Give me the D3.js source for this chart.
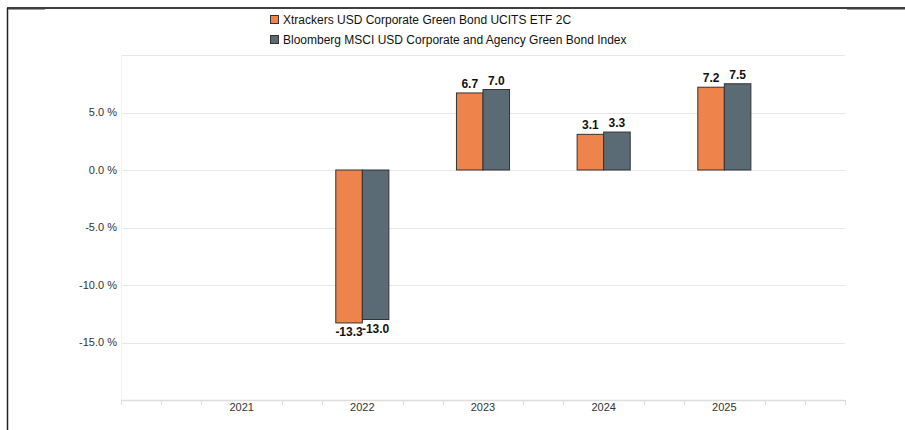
<!DOCTYPE html>
<html>
<head>
<meta charset="utf-8">
<script src="https://cdn.jsdelivr.net/npm/d3@7"></script>
<style>
  body { margin: 0; background: #fff; }
  svg text { font-family: "Liberation Sans", Arial, sans-serif; }
</style>
</head>
<body>
<div id="chart"></div>
<script>
// chart data
const years = [2021, 2022, 2023, 2024, 2025];
const fundValues = [null, -13.3, 6.7, 3.1, 7.2];
const indexValues = [null, -13.0, 7.0, 3.3, 7.5];
const seriesNames = [
    "Xtrackers USD Corporate Green Bond UCITS ETF 2C",
    "Bloomberg MSCI USD Corporate and Agency Green Bond Index"
];
const seriesColors = ["#ee844b", "#5a6b76"];
const yTicks = [10, 5, 0, -5, -10, -15];

const W = 905, H = 430;
const plot = { left: 121, right: 845, top: 55, bottom: 400 };

// plain hyphen instead of the unicode minus d3 puts in
const fmt = v => d3.format(".1f")(v).replace("\u2212", "-");

const svg = d3.select("#chart").append("svg")
    .attr("width", W)
    .attr("height", H);

// outer frame
svg.append("line").attr("x1", 7).attr("x2", W).attr("y1", 8).attr("y2", 8)
    .attr("stroke", "#000").attr("stroke-width", 1.5);
svg.append("line").attr("x1", 7.5).attr("x2", 7.5).attr("y1", 8).attr("y2", H)
    .attr("stroke", "#222").attr("stroke-width", 1.5);
svg.append("line").attr("x1", 8).attr("x2", 45).attr("y1", 9.5).attr("y2", 9.5)
    .attr("stroke", "#999").attr("stroke-width", 1);
svg.append("line").attr("x1", 847).attr("x2", W).attr("y1", 9.5).attr("y2", 9.5)
    .attr("stroke", "#999").attr("stroke-width", 1);

// scales
const x = d3.scaleLinear().domain([2020, 2026]).range([plot.left, plot.right]);
const y = d3.scaleLinear().domain([-20, 10]).range([plot.bottom, plot.top]);
const barW = x(2020.22) - x(2020);

// gridlines
svg.append("g").selectAll("line")
    .data(yTicks)
    .join("line")
    .attr("x1", plot.left).attr("x2", plot.right)
    .attr("y1", d => Math.round(y(d)) + 0.5).attr("y2", d => Math.round(y(d)) + 0.5)
    .attr("stroke", "#e6e6e6");

svg.append("line")
    .attr("x1", plot.left + 0.5).attr("x2", plot.left + 0.5)
    .attr("y1", plot.top).attr("y2", plot.bottom)
    .attr("stroke", "#f2f2f2");

// y labels
svg.append("g").selectAll("text")
    .data(yTicks.filter(d => d < 10))
    .join("text")
    .attr("x", plot.left - 4)
    .attr("y", d => y(d))
    .attr("dy", "0.35em")
    .attr("text-anchor", "end")
    .attr("font-size", 11)
    .attr("fill", "#333")
    .text(d => fmt(d) + " %");

// x axis: minor ticks every third of a year, labels at the years
const xTicks = d3.range(0, 19).map(i => 2020 + i / 3)
    .filter((d, i) => i % 3 !== 0 || i === 0 || i === 18);

const xAxis = svg.append("g");
xAxis.append("line")
    .attr("x1", plot.left).attr("x2", plot.right)
    .attr("y1", plot.bottom + 0.5).attr("y2", plot.bottom + 0.5)
    .attr("stroke", "#ddd").attr("stroke-width", 1.5);
xAxis.selectAll(".tick")
    .data(xTicks)
    .join("line")
    .attr("x1", d => Math.round(x(d)) + 0.5).attr("x2", d => Math.round(x(d)) + 0.5)
    .attr("y1", plot.bottom).attr("y2", plot.bottom + 5)
    .attr("stroke", "#ddd");
xAxis.selectAll("text")
    .data(years)
    .join("text")
    .attr("x", d => x(d))
    .attr("y", plot.bottom + 11)
    .attr("text-anchor", "middle")
    .attr("font-size", 11)
    .attr("fill", "#333")
    .text(d => d);

// bars
const rows = [];
years.forEach((yr, i) => {
    [fundValues[i], indexValues[i]].forEach((v, s) => {
        if (v !== null) rows.push({ year: yr, value: v, s: s });
    });
});

svg.append("g").selectAll("rect")
    .data(rows)
    .join("rect")
    .attr("x", d => x(d.year) - barW + d.s * barW)
    .attr("width", barW)
    .attr("y", d => y(Math.max(0, d.value)))
    .attr("height", d => Math.abs(y(d.value) - y(0)))
    .attr("fill", d => seriesColors[d.s])
    .attr("stroke", "#333")
    .attr("stroke-width", 1);

// value labels
svg.append("g").selectAll("text")
    .data(rows)
    .join("text")
    .attr("x", d => x(d.year) - barW / 2 + d.s * barW)
    .attr("y", d => d.value >= 0 ? y(d.value) - 5 : y(d.value) + 13)
    .attr("text-anchor", "middle")
    .attr("font-size", 12)
    .attr("font-weight", "bold")
    .attr("fill", "#111")
    .text(d => fmt(d.value));

// legend
const legend = svg.append("g").selectAll("g")
    .data(seriesNames)
    .join("g")
    .attr("transform", (d, i) => `translate(270, ${20 + i * 20})`);
legend.append("rect")
    .attr("x", 0.5).attr("y", -4.5)
    .attr("width", 8).attr("height", 8)
    .attr("fill", (d, i) => seriesColors[i])
    .attr("stroke", "#333");
legend.append("text")
    .attr("x", 13)
    .attr("dy", "0.35em")
    .attr("font-size", 12)
    .attr("fill", "#111")
    .text(d => d);
</script>
</body>
</html>
